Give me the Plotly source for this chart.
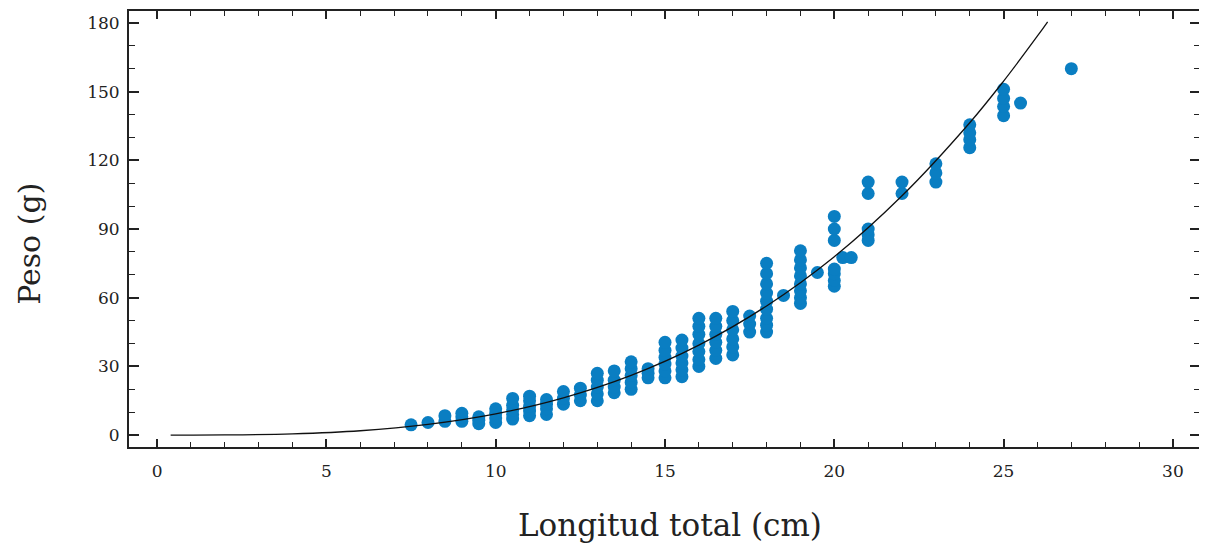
import plotly.graph_objects as go

# Observed data: total length (cm) and weight (g)
longitud = (
    [7.5] + [8] + [8.5] * 2 + [9] * 3 + [9.5] * 3 + [10] * 4 + [10.5] * 5 + [11] * 5 +
    [11.5] * 4 + [12] * 3 + [12.5] * 3 + [13] * 5 + [13.5] * 4 + [14] * 5 + [14.5] * 3 +
    [15] * 6 + [15.5] * 6 + [16] * 7 + [16.5] * 6 + [17] * 6 + [17.5] * 3 + [18] * 9 +
    [18.5] + [19] * 8 + [19.5] + [20] * 7 + [20.25] + [20.5] + [21] * 5 + [22] * 2 +
    [23] * 3 + [24] * 4 + [25] * 4 + [25.5] + [27]
)
peso = [
    4.5,
    5.5,
    6, 8.5,
    6, 8, 9.5,
    5, 6.5, 8,
    5.5, 7.5, 9.5, 11.5,
    7, 9, 11, 13, 16,
    8.5, 10.5, 12.5, 15, 17,
    9, 11.5, 13.5, 15.5,
    13.5, 16, 19,
    15, 17.5, 20.5,
    15, 18, 21, 24, 27,
    18.5, 21, 24, 28,
    20, 23, 26, 29, 32,
    25, 27, 29,
    25, 28, 31, 34, 37, 40.5,
    25.5, 28.5, 31.5, 34.5, 38, 41.5,
    30, 33, 36.5, 40, 44, 47.5, 51,
    33.5, 37, 40.5, 44, 47.5, 51,
    35, 38.5, 42, 46, 50, 54,
    45, 48.5, 52,
    45, 48, 51, 55, 58.5, 62, 66, 70.5, 75,
    61,
    57.5, 60, 63, 66, 69.5, 73, 76.5, 80.5,
    71,
    65, 67.5, 70.5, 72.5, 85, 90, 95.5,
    77.5,
    77.5,
    85, 87.5, 90, 105.5, 110.5,
    105.5, 110.5,
    110.5, 114.5, 118.5,
    125.5, 129, 132, 135.5,
    139.5, 143.5, 147, 151,
    145,
    160,
]

# Fitted length-weight curve
curva_longitud = [0.4, 2, 4, 6, 8, 10, 12, 14, 16, 18, 20, 22, 24, 25, 26, 26.3]
curva_peso = [0.0, 0.07, 0.56, 1.9, 4.7, 9.3, 16.3, 26.1, 39.3, 56.4, 77.9, 104.5, 136.4, 154.6, 174.3, 180.5]

x_ticks = [0, 5, 10, 15, 20, 25, 30]
y_ticks = [0, 30, 60, 90, 120, 150, 180]

fig = go.Figure()
fig.add_trace(go.Scatter(
    x=longitud, y=peso, mode="markers",
    marker=dict(color="#0a7ec2", size=13, line=dict(width=0)),
    showlegend=False, hoverinfo="x+y",
))
fig.add_trace(go.Scatter(
    x=curva_longitud, y=curva_peso, mode="lines",
    line=dict(color="#111111", width=1.3, shape="spline"),
    showlegend=False,
))

tickfont = dict(family="DejaVu Serif", size=17, color="#222222")
fig.update_xaxes(
    range=[-0.83, 30.8], tickvals=x_ticks, ticktext=[str(t) for t in x_ticks],
    ticks="inside", ticklen=8, tickwidth=1.5, tickcolor="#222",
    minor=dict(dtick=1, ticks="inside", ticklen=5, tickwidth=1.2, tickcolor="#222"),
    showline=True, linewidth=2, linecolor="#222", mirror="ticks",
    showgrid=False, zeroline=False, tickfont=tickfont, ticklabelstandoff=8,
)
fig.update_yaxes(
    range=[-5.2, 185.2], tickvals=y_ticks, ticktext=[str(t) for t in y_ticks],
    ticks="inside", ticklen=10, tickwidth=1.5, tickcolor="#222",
    minor=dict(dtick=10, ticks="inside", ticklen=6, tickwidth=1.2, tickcolor="#222"),
    showline=True, linewidth=2, linecolor="#222", mirror="ticks",
    showgrid=False, zeroline=False, tickfont=tickfont, ticklabelstandoff=4,
)

fig.add_annotation(
    text="Longitud total (cm)", xref="paper", yref="paper", x=0.505, y=-0.178,
    xanchor="center", yanchor="middle", showarrow=False,
    font=dict(family="DejaVu Serif", size=31, color="#222"),
)
fig.add_annotation(
    text="Peso (g)", xref="paper", yref="paper", x=-0.0924, y=0.466,
    xanchor="center", yanchor="middle", textangle=-90, showarrow=False,
    font=dict(family="DejaVu Serif", size=30, color="#222"),
)

fig.update_layout(
    width=1199, height=540,
    margin=dict(l=121, r=7, t=1, b=101),
    paper_bgcolor="white", plot_bgcolor="white",
)

fig.write_html("out.html")
